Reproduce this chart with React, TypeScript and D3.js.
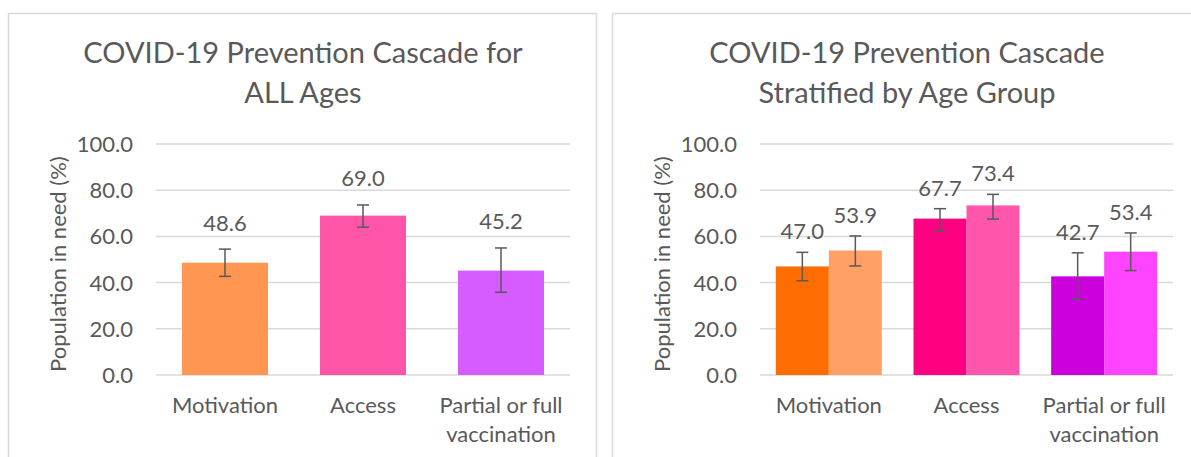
import React from 'react';
import * as d3 from 'd3';

// Data
const categories = ['Motivation', 'Access', 'Partial or full vaccination'];
const categoryLines = [['Motivation'], ['Access'], ['Partial or full', 'vaccination']];
const yTicks = [0, 20, 40, 60, 80, 100];

const allAges = [48.6, 69.0, 45.2];
const allAgesLow = [42.7, 64.0, 35.8];
const allAgesHigh = [54.5, 73.6, 55.0];

const groupA = [47.0, 67.7, 42.7];
const groupALow = [40.8, 62.5, 32.8];
const groupAHigh = [53.1, 72.0, 52.9];

const groupB = [53.9, 73.4, 53.4];
const groupBLow = [47.2, 67.5, 45.2];
const groupBHigh = [60.2, 78.2, 61.5];

const allColors = ['#FF9651', '#FF55A8', '#D65CFF'];
const groupAColors = ['#FF6D00', '#FF0080', '#CC00DD'];
const groupBColors = ['#FFA066', '#FF55AA', '#FF44FF'];

const FONT = 'Lato, "Open Sans", sans-serif';
const TEXT = '#595959';
const GRID = '#D9D9D9';

type Series = { values: number[]; low: number[]; high: number[]; colors: string[] };

interface PanelProps {
  title: string[];
  titleX: number;
  x0: number;
  x1: number;
  frameX: number;
  series: Series[];
  padding: number;
  labelGap: number;
}

const Panel: React.FC<PanelProps> = ({ title, titleX, x0, x1, frameX, series, padding, labelGap }) => {
  const y = d3.scaleLinear().domain([0, 100]).range([375, 144]);
  const x = d3.scaleBand<string>().domain(categories).range([x0, x1]).paddingInner(padding).paddingOuter(padding / 2);
  const inner = d3.scaleBand<number>().domain(series.map((_, i) => i)).range([0, x.bandwidth()]);
  const fmt = d3.format('.1f');

  return (
    <g>
      <rect x={frameX + 0.5} y={13.5} width={588} height={470} fill="#fff" stroke={GRID} strokeWidth={1.5} />
      {title.map((t, i) => (
        <text key={t} x={titleX} y={63 + i * 40} textAnchor="middle" fontSize={29} fill={TEXT}>{t}</text>
      ))}
      {yTicks.map(t => (
        <g key={t}>
          <line x1={x0} x2={x1} y1={y(t)} y2={y(t)} stroke={GRID} strokeWidth={1.5} />
          <text x={x0 - 23} y={y(t) + 8} textAnchor="end" fontSize={22} fill={TEXT}>{fmt(t)}</text>
        </g>
      ))}
      <text
        transform={`translate(${x0 - 99},${y(48)}) rotate(-90)`}
        textAnchor="middle" dominantBaseline="central" fontSize={22} fill={TEXT}
      >Population in need (%)</text>
      {categories.map((c, ci) => (
        <g key={c}>
          {series.map((s, si) => {
            const bx = (x(c) as number) + (inner(si) as number);
            const bw = inner.bandwidth();
            const cx = bx + bw / 2;
            return (
              <g key={si}>
                <rect x={bx} y={y(s.values[ci])} width={bw} height={y(0) - y(s.values[ci])} fill={s.colors[ci]} />
                <line x1={cx} x2={cx} y1={y(s.high[ci])} y2={y(s.low[ci])} stroke={TEXT} strokeWidth={1.5} />
                <line x1={cx - 6} x2={cx + 6} y1={y(s.high[ci])} y2={y(s.high[ci])} stroke={TEXT} strokeWidth={1.5} />
                <line x1={cx - 6} x2={cx + 6} y1={y(s.low[ci])} y2={y(s.low[ci])} stroke={TEXT} strokeWidth={1.5} />
                <text x={cx} y={y(s.high[ci]) - labelGap + 8} textAnchor="middle" fontSize={22} fill={TEXT}>
                  {fmt(s.values[ci])}
                </text>
              </g>
            );
          })}
          {categoryLines[ci].map((l, li) => (
            <text key={l} x={(x(c) as number) + x.bandwidth() / 2} y={413 + li * 29} textAnchor="middle" fontSize={22} fill={TEXT}>{l}</text>
          ))}
        </g>
      ))}
    </g>
  );
};

const App: React.FC = () => {
  return (
    <svg width={1191} height={457} style={{ position: 'absolute', left: 0, top: 0, fontFamily: FONT }}>
      <rect width={1191} height={457} fill="#fff" />
      <Panel
        title={['COVID-19 Prevention Cascade for', 'ALL Ages']}
        titleX={303}
        x0={156}
        x1={570}
        frameX={8}
        series={[{ values: allAges, low: allAgesLow, high: allAgesHigh, colors: allColors }]}
        padding={0.377}
        labelGap={26.5}
      />
      <Panel
        title={['COVID-19 Prevention Cascade', 'Stratified by Age Group']}
        titleX={907}
        x0={760}
        x1={1173}
        frameX={612}
        series={[
          { values: groupA, low: groupALow, high: groupAHigh, colors: groupAColors },
          { values: groupB, low: groupBLow, high: groupBHigh, colors: groupBColors },
        ]}
        padding={0.23}
        labelGap={21}
      />
    </svg>
  );
};

export default App;
